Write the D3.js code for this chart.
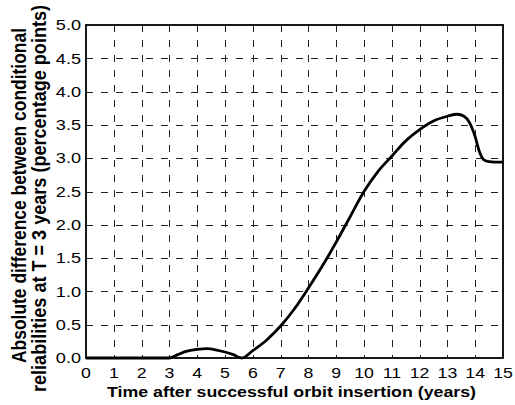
<!DOCTYPE html>
<html>
<head>
<meta charset="utf-8">
<script src="https://cdn.jsdelivr.net/npm/d3@7"></script>
<style>
  body { margin: 0; background: #fff; }
  svg text { font-family: "Liberation Sans", Arial, sans-serif; fill: #000; }
</style>
</head>
<body>
<div id="chart"></div>
<script>
// years after insertion (x) and difference in percentage points (y)
var years = [0, 1, 2, 3, 3.3, 3.6, 4.0, 4.35, 4.7, 5.0, 5.3, 5.6,
             6.0, 6.5, 7.0, 7.5, 8.0, 8.5, 9.0, 9.5, 10.0, 10.5, 11.0,
             11.5, 12.0, 12.5, 13.0, 13.35, 13.6, 13.8, 14.0, 14.15, 14.3, 14.5, 15];
var diffs = [0, 0, 0, 0, 0.05, 0.1, 0.13, 0.14, 0.12, 0.09, 0.05, 0.0,
             0.11, 0.27, 0.48, 0.74, 1.05, 1.38, 1.74, 2.12, 2.5, 2.8, 3.03,
             3.26, 3.43, 3.56, 3.63, 3.66, 3.63, 3.53, 3.32, 3.1, 2.98, 2.95, 2.94];

var xTicks = d3.range(0, 16);
var yTicks = [0, 0.5, 1, 1.5, 2, 2.5, 3, 3.5, 4, 4.5, 5];
var xTitle = "Time after successful orbit insertion (years)";
var yTitle = ["Absolute difference between conditional",
              "reliabilities at T = 3 years (percentage points)"];

var W = 515, H = 405;
var margin = {left: 86, top: 25, right: 12, bottom: 47};
var stretch = 1.18; // the original picture is a little wider than tall

var svg = d3.select("#chart").append("svg")
    .attr("width", W)
    .attr("height", H);

var x = d3.scaleLinear().domain([0, 15]).range([margin.left, W - margin.right]);
var y = d3.scaleLinear().domain([0, 5]).range([H - margin.bottom, margin.top]);

// grid
var grid = svg.append("g")
    .attr("stroke", "#222")
    .attr("stroke-width", 1)
    .attr("stroke-dasharray", "7,8")
    .attr("shape-rendering", "crispEdges");

grid.selectAll("line.v")
    .data(xTicks.slice(1, -1))
  .enter().append("line")
    .attr("class", "v")
    .attr("x1", function(d) { return Math.round(x(d)) + 0.5; })
    .attr("x2", function(d) { return Math.round(x(d)) + 0.5; })
    .attr("y1", y(5))
    .attr("y2", y(0));

grid.selectAll("line.h")
    .data(yTicks.slice(1, -1))
  .enter().append("line")
    .attr("class", "h")
    .attr("y1", function(d) { return Math.round(y(d)) + 0.5; })
    .attr("y2", function(d) { return Math.round(y(d)) + 0.5; })
    .attr("x1", x(0))
    .attr("x2", x(15));

// curve
var line = d3.line()
    .x(function(d, i) { return x(years[i]); })
    .y(function(d) { return y(d); })
    .curve(d3.curveMonotoneX);

svg.append("path")
    .datum(diffs)
    .attr("fill", "none")
    .attr("stroke", "#000")
    .attr("stroke-width", 2.8)
    .attr("stroke-linejoin", "round")
    .attr("d", line);

// axes box
svg.append("rect")
    .attr("x", x(0))
    .attr("y", y(5))
    .attr("width", x(15) - x(0))
    .attr("height", y(0) - y(5))
    .attr("fill", "none")
    .attr("stroke", "#000")
    .attr("stroke-width", 1.8);

// tick labels
svg.append("g").selectAll("text")
    .data(xTicks)
  .enter().append("text")
    .attr("transform", function(d) {
      return "translate(" + x(d) + "," + (y(0) + 20) + ") scale(" + stretch + ",1)";
    })
    .attr("text-anchor", "middle")
    .attr("font-size", "15px")
    .text(function(d) { return d; });

svg.append("g").selectAll("text")
    .data(yTicks)
  .enter().append("text")
    .attr("transform", function(d) {
      return "translate(" + (x(0) - 5) + "," + y(d) + ") scale(" + (stretch + 0.07) + ",1)";
    })
    .attr("dy", "0.36em")
    .attr("text-anchor", "end")
    .attr("font-size", "14.5px")
    .text(function(d) { return d.toFixed(1); });

// titles
svg.append("text")
    .attr("x", 291.5)
    .attr("y", 397)
    .attr("text-anchor", "middle")
    .attr("font-size", "15px")
    .attr("font-weight", "bold")
    .attr("textLength", 369)
    .attr("lengthAdjust", "spacingAndGlyphs")
    .text(xTitle);

var titleLen = [335, 387];
var titleMid = [195.5, 198.5];
svg.append("g").selectAll("text")
    .data(yTitle)
  .enter().append("text")
    .attr("transform", function(d, i) {
      return "translate(" + (26 + i * 20) + "," + titleMid[i] + ") rotate(-90) scale(1,1.25)";
    })
    .attr("text-anchor", "middle")
    .attr("font-size", "16px")
    .attr("font-weight", "bold")
    .attr("textLength", function(d, i) { return titleLen[i]; })
    .attr("lengthAdjust", "spacingAndGlyphs")
    .text(function(d) { return d; });
</script>
</body>
</html>
